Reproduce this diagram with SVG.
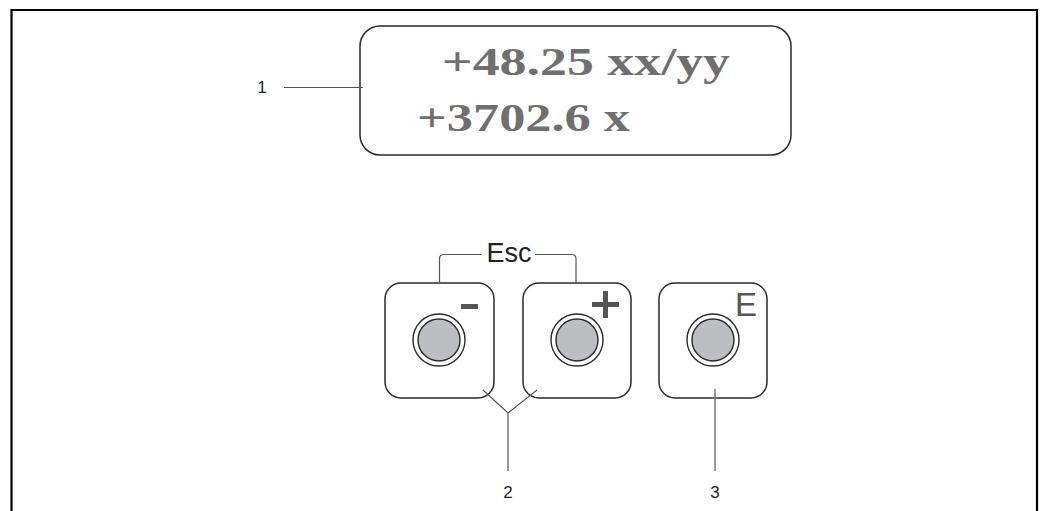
<svg xmlns="http://www.w3.org/2000/svg" width="1044" height="511" viewBox="0 0 1044 511">
<style>
.frame{fill:none;stroke:#000;stroke-width:2.2}
.box{fill:#fff;stroke:#2a2a2a;stroke-width:1.5}
.ring{fill:#fff;stroke:#2a2a2a;stroke-width:1.4}
.knob{fill:#bdbec1;stroke:#2a2a2a;stroke-width:1.4}
.lcd{font-family:"Liberation Serif",serif;font-weight:bold;fill:#6f6f71;font-size:41px}
.lbl{font-family:"Liberation Sans",Arial,sans-serif;font-size:17px;fill:#222;text-anchor:middle}
.lead{fill:none;stroke:#555;stroke-width:1.2}
.lead2{fill:none;stroke:#777;stroke-width:1.5}
.sym{fill:#555}
</style>
<path class="frame" d="M11.5,511 V10 H1037 V511"/>
<g id="display">
<rect class="box" x="360" y="26" width="431" height="129" rx="20" ry="20"/>
<text class="lcd" x="442" y="75" textLength="288" lengthAdjust="spacingAndGlyphs">+48.25 xx/yy</text>
<text class="lcd" x="417" y="131" textLength="213" lengthAdjust="spacingAndGlyphs">+3702.6 x</text>
</g>
<g id="btn-minus">
<rect class="box" x="385" y="283" width="109" height="115" rx="16" ry="16"/>
<circle class="ring" cx="439" cy="340" r="26"/>
<circle class="knob" cx="439" cy="340" r="21"/>
<rect class="sym" x="461" y="304" width="17" height="5"/>
</g>
<g id="btn-plus">
<rect class="box" x="523" y="283" width="108" height="115" rx="16" ry="16"/>
<circle class="ring" cx="577" cy="340" r="26"/>
<circle class="knob" cx="577" cy="340" r="21"/>
<rect class="sym" x="592" y="302" width="27" height="5"/>
<rect class="sym" x="603" y="291" width="5" height="27"/>
</g>
<g id="btn-e">
<rect class="box" x="659" y="283" width="108" height="115" rx="16" ry="16"/>
<circle class="ring" cx="713" cy="340" r="26"/>
<circle class="knob" cx="713" cy="340" r="21"/>
<text x="735" y="316" font-family="Liberation Sans,Arial,sans-serif" font-size="33" fill="#555">E</text>
</g>
<g id="esc">
<text x="509" y="262" font-family="Liberation Sans,Arial,sans-serif" font-size="27" fill="#222" text-anchor="middle">Esc</text>
</g>
<g id="connectors">
<path class="lead" d="M439.5,283 V259 Q439.5,254.5 444,254.5 H482"/>
<path class="lead" d="M535,254.5 H571.5 Q576,254.5 576,259 V283"/>
<path class="lead" d="M284,87.5 H363"/>
<path class="lead" d="M483,390 L508,413 L537,390"/>
<path class="lead2" d="M508,413 V471"/>
<path class="lead2" d="M715,389 V471"/>
</g>
<g id="labels">
<text class="lbl" x="262" y="93">1</text>
<text class="lbl" x="508" y="498">2</text>
<text class="lbl" x="715" y="498">3</text>
</g>
</svg>
